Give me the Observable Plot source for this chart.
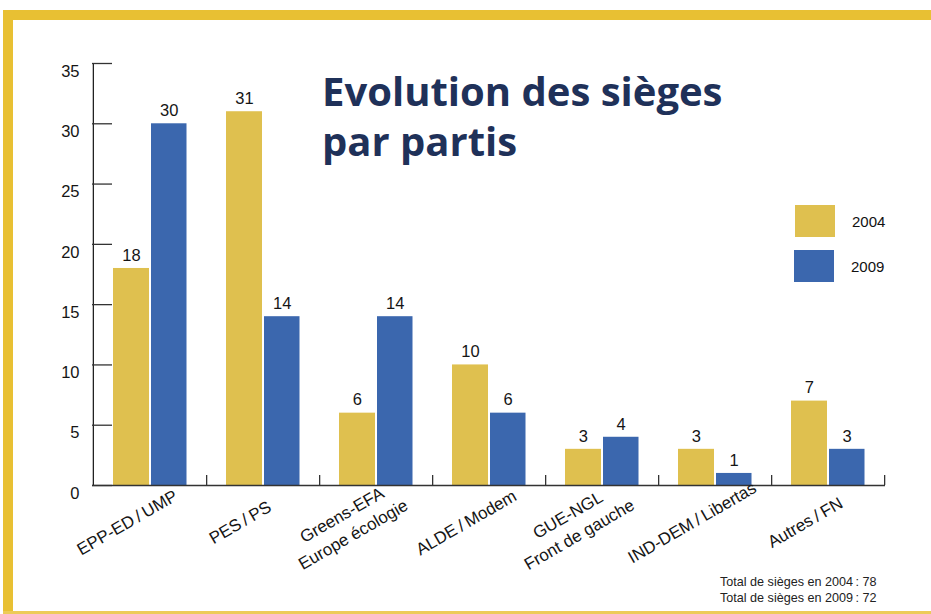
<!DOCTYPE html>
<html>
<head>
<meta charset="utf-8">
<script src="https://cdn.jsdelivr.net/npm/d3@7"></script>
<script src="https://cdn.jsdelivr.net/npm/@observablehq/plot@0.6"></script>
<style>
  html, body { margin: 0; padding: 0; background: #fff; }
  #wrap { position: relative; width: 931px; height: 614px; overflow: hidden; font-family: "Liberation Sans", Arial, sans-serif; }
  #chart { position: absolute; left: 0; top: 0; }
  .border-top { position: absolute; left: 3px; top: 10px; width: 928px; height: 10px; background: #e8c033; }
  .border-left { position: absolute; left: 3px; top: 10px; width: 10px; height: 604px; background: #e8c033; }
  .border-bottom { position: absolute; left: 3px; top: 611px; width: 928px; height: 3px; background: #edcb58; }
  #title { position: absolute; left: 322px; top: 66px; font-family: "Open Sans", Lato, sans-serif; font-weight: 700; font-size: 40px; line-height: 50px; color: #1f3159; font-variant-ligatures: none; white-space: nowrap; }
  #legend { position: absolute; left: 794px; top: 205px; font-size: 15px; color: #111; }
  .lg { position: absolute; display: flex; align-items: center; height: 32px; }
  .sw { width: 40px; height: 32px; }
  .lt { position: absolute; left: 57px; white-space: nowrap; }
  #note { position: absolute; left: 720px; top: 574px; font-size: 12.6px; line-height: 16px; color: #222; white-space: nowrap; }
</style>
</head>
<body>
<div id="wrap">
  <div id="chart"></div>
  <div class="border-top"></div>
  <div class="border-left"></div>
  <div class="border-bottom"></div>
  <div id="title">Evolution des sièges<br>par partis</div>
  <div id="legend"></div>
  <div id="note"></div>
</div>
<script>
// ---- data ----
const parties = [
  "EPP-ED\u2009/\u2009UMP",
  "PES\u2009/\u2009PS",
  "Greens-EFA\nEurope écologie",
  "ALDE\u2009/\u2009Modem",
  "GUE-NGL\nFront de gauche",
  "IND-DEM\u2009/\u2009Libertas",
  "Autres\u2009/\u2009FN"
];
const years = ["2004", "2009"];
const seats2004 = [18, 31, 6, 10, 3, 3, 7];
const seats2009 = [30, 14, 14, 6, 4, 1, 3];
const yTicks = [0, 5, 10, 15, 20, 25, 30, 35];
const yearColors = ["#dfc04f", "#3b67ae"];
const totals = [
  "Total de sièges en 2004\u2009: 78",
  "Total de sièges en 2009\u2009: 72"
];

// ---- layout ----
const W = 931, H = 614;
const ML = 92, MR = 46, MT = 63, MB = 129;
const plotW = W - ML - MR, plotH = H - MT - MB;
const step = plotW / parties.length;

const rows2004 = parties.map((p, i) => ({party: p, year: years[0], seats: seats2004[i]}));
const rows2009 = parties.map((p, i) => ({party: p, year: years[1], seats: seats2009[i]}));
const oneLine = parties.filter(p => !p.includes("\n"));
const twoLines = parties.filter(p => p.includes("\n"));

const ink = "#151515";
const font = "'Liberation Sans', Arial, sans-serif";

const chart = Plot.plot({
  width: W,
  height: H,
  marginLeft: ML,
  marginRight: MR,
  marginTop: MT,
  marginBottom: MB,
  style: {fontFamily: font, fontSize: "16px", color: ink, background: "transparent"},
  x: {domain: parties, padding: 0, axis: null},
  y: {domain: [0, 35], axis: null},
  marks: [
    // bars
    Plot.barY(rows2004, {x: "party", y: "seats", fill: yearColors[0], insetLeft: 20, insetRight: 57}),
    Plot.barY(rows2009, {x: "party", y: "seats", fill: yearColors[1], insetLeft: 58, insetRight: 19.5}),
    // value labels
    Plot.text(rows2004, {x: "party", y: "seats", text: d => String(d.seats), dx: -18.6, dy: -13, fill: ink, fontSize: 16.5}),
    Plot.text(rows2009, {x: "party", y: "seats", text: d => String(d.seats), dx: 19.2, dy: -13, fill: ink, fontSize: 16.5}),
    // y axis: line, inward ticks, labels
    Plot.ruleX([parties[0]], {x: d => d, dx: -step / 2, stroke: "#222", strokeWidth: 1.3}),
    Plot.ruleY(yTicks, {y: d => d, insetRight: plotW - 20, stroke: "#333", strokeWidth: 1.3}),
    Plot.text(yTicks, {y: d => d, frameAnchor: "left", dx: -13, dy: 8, textAnchor: "end", fill: ink, fontSize: 16.5}),
    // x axis baseline and group-boundary ticks
    Plot.ruleY([0], {stroke: "#333", strokeWidth: 1.3}),
    Plot.ruleX(parties, {x: d => d, dx: step / 2, insetTop: plotH - 10, stroke: "#333", strokeWidth: 1.3}),
    // category labels
    Plot.text(oneLine, {x: d => d, frameAnchor: "bottom", rotate: -30, dx: -20, dy: 42, textAnchor: "middle", fill: ink, fontSize: 17}),
    Plot.text(twoLines, {x: d => d, frameAnchor: "bottom", rotate: -30, dx: -20, dy: 54, textAnchor: "middle", lineHeight: 1.33, fill: ink, fontSize: 17})
  ]
});
document.getElementById("chart").appendChild(chart);

// legend
const legend = document.getElementById("legend");
years.forEach((y, i) => {
  const item = document.createElement("div");
  item.className = "lg";
  item.style.top = (i * 45) + "px";
  item.style.left = (i === 0 ? 1 : 0) + "px";
  item.innerHTML = `<div class="sw" style="background:${yearColors[i]}"></div><span class="lt">${y}</span>`;
  legend.appendChild(item);
});

// note
document.getElementById("note").innerHTML = totals.join("<br>");
</script>
</body>
</html>
